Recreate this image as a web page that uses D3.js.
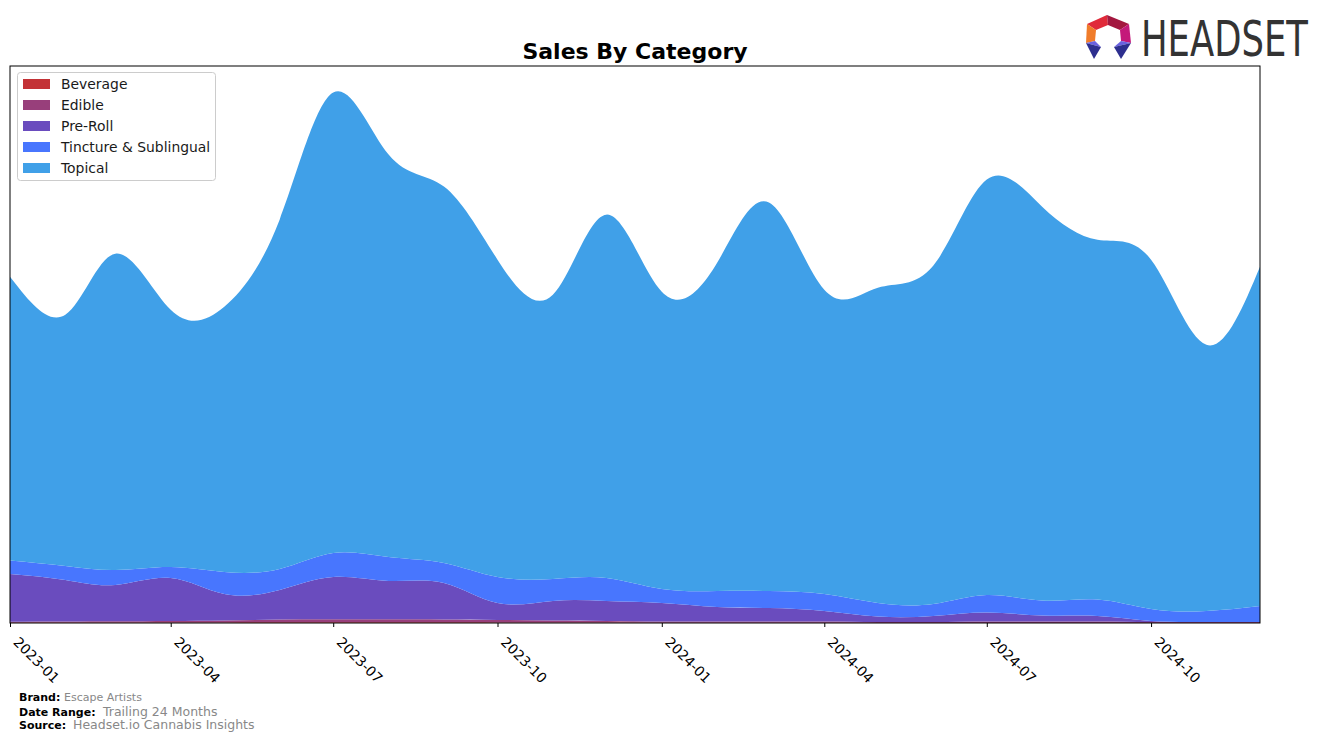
<!doctype html>
<html lang="en">
<head>
  <meta charset="utf-8">
  <title>Sales By Category</title>
  <style>
    body { margin: 0; background: #fff; }
    svg { display: block; font-family: "DejaVu Sans", sans-serif; }
  </style>
</head>
<body>
<script src="https://cdn.jsdelivr.net/npm/d3@7"></script>
<script>
// monthly sales by category
var months = ["2023-01","2023-02","2023-03","2023-04","2023-05","2023-06","2023-07","2023-08","2023-09","2023-10","2023-11","2023-12",
              "2024-01","2024-02","2024-03","2024-04","2024-05","2024-06","2024-07","2024-08","2024-09","2024-10","2024-11","2024-12"];
var categories = ["Beverage", "Edible", "Pre-Roll", "Tincture & Sublingual", "Topical"];
var beverage = [30,40,50,50,60,80,80,80,70,60,50,40,30,20,20,20,10,10,10,10,10,0,0,0];
var edible   = [100,110,120,150,190,270,290,290,280,240,200,160,120,130,130,130,90,90,140,140,140,100,100,100];
var preRoll  = [4770,4150,3630,4300,2650,2950,4230,3830,3650,1700,1950,2000,1850,1450,1350,1050,550,600,900,600,550,100,0,0];
var tincture = [1350,1400,1500,1100,2200,2100,2400,2400,2000,2600,2200,2300,1400,1600,1700,1700,1350,1200,1750,1500,1650,1200,1100,1600];
var topical  = [28350,25100,31600,25700,26500,34900,46000,40200,37600,31700,28400,36300,29700,32800,38800,30400,31500,33800,41500,39350,35950,34900,26600,33900];
var tickLabels = ["2023-01","2023-04","2023-07","2023-10","2024-01","2024-04","2024-07","2024-10"];
var colors = ["#c33236", "#983f7b", "#6a4cbe", "#4876fe", "#40a0e8"];

(function() {

var W = 1324, H = 742;
var plotL = 10, plotR = 1260, plotT = 66, plotB = 623;
var parse = d3.timeParse("%Y-%m");

var rows = months.map(function(m, i) {
  return {
    date: parse(m),
    "Beverage": beverage[i],
    "Edible": edible[i],
    "Pre-Roll": preRoll[i],
    "Tincture & Sublingual": tincture[i],
    "Topical": topical[i]
  };
});

var series = d3.stack().keys(categories)(rows);
var maxTotal = d3.max(series[series.length - 1], function(d) { return d[1]; });

var x = d3.scaleTime()
    .domain([parse(months[0]), parse(months[months.length - 1])])
    .range([plotL, plotR]);
var y = d3.scaleLinear()
    .domain([0, maxTotal * 1.05])
    .range([plotB, plotT]);

var svg = d3.select("body").append("svg")
    .attr("width", W)
    .attr("height", H);

svg.append("clipPath").attr("id", "plot-clip")
  .append("rect")
    .attr("x", plotL).attr("y", plotT)
    .attr("width", plotR - plotL).attr("height", plotB - plotT);

var area = d3.area()
    .curve(d3.curveNatural)
    .x(function(d) { return x(d.data.date); })
    .y0(function(d) { return y(d[0]); })
    .y1(function(d) { return y(d[1]); });

svg.append("g")
    .attr("clip-path", "url(#plot-clip)")
  .selectAll("path")
  .data(series)
  .enter().append("path")
    .attr("d", area)
    .attr("fill", function(d, i) { return colors[i]; });

// frame
svg.append("rect")
    .attr("x", plotL).attr("y", plotT)
    .attr("width", plotR - plotL).attr("height", plotB - plotT)
    .attr("fill", "none")
    .attr("stroke", "#000")
    .attr("stroke-width", 1);

// x axis
var xAxis = svg.append("g")
    .attr("transform", "translate(0," + plotB + ")")
    .call(d3.axisBottom(x)
      .tickValues(tickLabels.map(parse))
      .tickFormat(d3.timeFormat("%Y-%m"))
      .tickSize(4)
      .tickSizeOuter(0));
xAxis.attr("font-family", null).attr("font-size", 13.9);
xAxis.select(".domain").remove();
xAxis.selectAll(".tick line").attr("stroke", "#000");
xAxis.selectAll(".tick text")
    .attr("fill", "#000")
    .attr("text-anchor", "start")
    .attr("y", 0).attr("dy", 0)
    .attr("transform", "translate(2,20) rotate(45)");

// title
svg.append("text")
    .attr("x", 635).attr("y", 59)
    .attr("text-anchor", "middle")
    .attr("font-size", 22)
    .attr("font-weight", "bold")
    .text("Sales By Category");

// legend
var legend = svg.append("g");
legend.append("rect")
    .attr("x", 17.5).attr("y", 72.5)
    .attr("width", 198).attr("height", 108)
    .attr("rx", 3)
    .attr("fill", "#fff")
    .attr("fill-opacity", 0.8)
    .attr("stroke", "#ccc");
var items = legend.selectAll("g.item")
  .data(categories)
  .enter().append("g")
    .attr("class", "item")
    .attr("transform", function(d, i) { return "translate(23," + (79 + i * 21) + ")"; });
items.append("rect")
    .attr("width", 27).attr("height", 10)
    .attr("fill", function(d, i) { return colors[i]; });
items.append("text")
    .attr("x", 38).attr("y", 10)
    .attr("font-size", 13.9)
    .attr("fill", "#1a1a1a")
    .text(function(d) { return d; });

// footer
var foot = [
  {label: "Brand:", value: "Escape Artists", y: 701, vx: 64, vs: 11},
  {label: "Date Range:", value: "Trailing 24 Months", y: 716, vx: 103, vs: 12.5},
  {label: "Source:", value: "Headset.io Cannabis Insights", y: 729, vx: 73, vs: 12.5}
];
foot.forEach(function(f) {
  svg.append("text")
      .attr("x", 19).attr("y", f.y)
      .attr("font-size", 11).attr("font-weight", "bold")
      .text(f.label);
  svg.append("text")
      .attr("x", f.vx).attr("y", f.y)
      .attr("font-size", f.vs).attr("fill", "#888")
      .text(f.value);
});

// logo
var logo = svg.append("g");
var P = {t:[1107,15], ur:[1129,24], r:[1131,43], br:[1121,59], bl:[1094,59], l:[1086,43], ul:[1087,24]};
var I = {t:[1108,25], ur:[1120,30], r:[1121,41], br:[1114,47], bl:[1101,47], l:[1095,41], ul:[1096,30]};
var pieces = [
  {pts:[P.ul,P.t,I.t,I.ul], c:"#e02a3a"},
  {pts:[P.t,P.ur,I.ur,I.t], c:"#a3173f"},
  {pts:[P.ur,P.r,I.r,I.ur], c:"#c4197a"},
  {pts:[P.ul,I.ul,I.l,P.l], c:"#f07c2a"},
  {pts:[P.l,I.l,I.bl], c:"#6a62e0"},
  {pts:[P.l,I.bl,P.bl], c:"#2d2f8f"},
  {pts:[P.r,I.r,I.br], c:"#6a62e0"},
  {pts:[P.r,I.br,P.br], c:"#2d2f8f"}
];
logo.selectAll("polygon")
  .data(pieces)
  .enter().append("polygon")
    .attr("points", function(d) { return d.pts.map(function(p) { return p.join(","); }).join(" "); })
    .attr("fill", function(d) { return d.c; });
// squeeze the wordmark horizontally to fit 1141..1308
var word = logo.append("text")
    .attr("x", 0).attr("y", 0)
    .attr("font-size", 50)
    .attr("fill", "#333")
    .text("HEADSET");
var natural = word.node().getComputedTextLength();
word.attr("transform", "translate(1141,56) scale(" + (167 / natural) + ",1)");

})();
</script>
</body>
</html>
